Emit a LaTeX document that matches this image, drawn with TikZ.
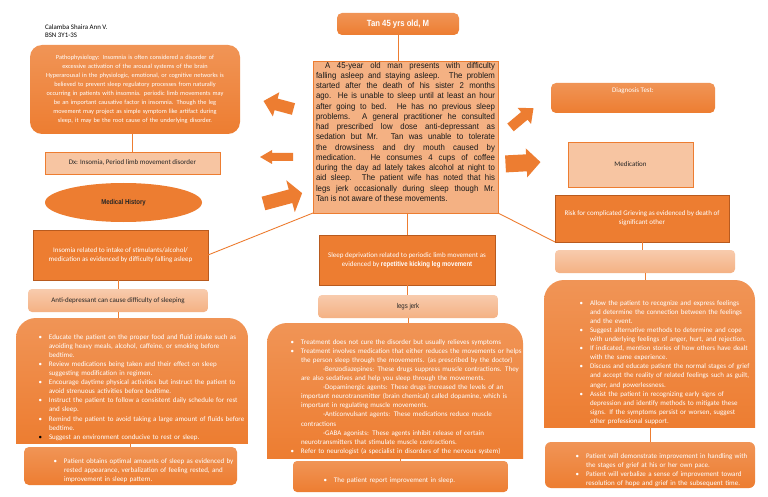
\documentclass[tikz,border=0pt]{standalone}
\usepackage{fontspec}
\setmainfont{Carlito}
\newfontfamily\narrow[FakeStretch=0.86]{Liberation Sans}
\newfontfamily\narrowb[FakeStretch=0.93]{Liberation Sans}
\usetikzlibrary{shapes.geometric}
\definecolor{orng}{HTML}{ED7D31}
\definecolor{orngdk}{HTML}{B85A1E}
\definecolor{sal}{HTML}{F4B183}
\definecolor{lsal}{HTML}{F8CBAD}
\definecolor{dtext}{HTML}{262626}
\newcommand\fs{\fontsize{7}{9.1}\selectfont}
\newcommand\fsp{\fontsize{6.3}{9}\selectfont}
\newcommand\itm{\par\noindent\llap{\textbullet\hspace{7pt}}}
\newcommand\itmk{\par\noindent\llap{\textcolor{black}{\textbullet}\hspace{7pt}}}
\newcommand\subl{\par\noindent\hspace*{22pt}}
\newcommand\barrow[7]{%
  \fill[orng, shift={(#1,#2)}, rotate=#3]
    (-#4/2,-#7/2) -- (#4/2-#5,-#7/2) -- (#4/2-#5,-#6/2) -- (#4/2,0)
    -- (#4/2-#5,#6/2) -- (#4/2-#5,#7/2) -- (-#4/2,#7/2) -- cycle;}
\newcommand\topround[1]{%
  \begin{scope}
    \clip[rounded corners=20pt] (#1.north west) rectangle ([yshift=-40pt]#1.south east);
    \shade[top color=orng!82!white, bottom color=orng] (#1.north west) rectangle (#1.south east);
  \end{scope}}
\tikzset{
  base/.style={inner sep=0pt, outer sep=0pt},
  hold/.style={base, rectangle},
  obox/.style={base, top color=orng!82!white, bottom color=orng, draw=none},
  lbox/.style={base, top color=lsal, bottom color=sal, draw=none},
  sbox/.style={base, fill=orng, draw=orngdk, line width=0.8pt},
  pbox/.style={base, fill=sal!75!white, draw=orng, line width=0.8pt},
  wtxt/.style={text=white, font=\fs},
  dtxt/.style={text=dtext, font=\fs},
  conn/.style={draw=orng, line width=0.9pt},
}
\begin{document}
\begin{tikzpicture}[x=1pt,y=-1pt]
\useasboundingbox (0,0) rectangle (768,497);
\fill[white] (0,0) rectangle (768,497);

% header
\node[base, anchor=west, text=black, font=\fontsize{6.9}{7}\selectfont] (nm1) at (45,27) {Calamba Shaira Ann V.};
\node[base, anchor=west, text=black, font=\fontsize{6.9}{7}\selectfont] (nm2) at (45,35) {BSN 3Y1-3S};

% left column
\node[obox, text=white, font=\fsp, rounded corners=12pt, minimum width=210pt, minimum height=89pt, text width=205pt, align=center] (patho) at (135,89.5)
 {Pathophysiology: Insomnia is often considered a disorder of\\excessive activation of the arousal systems of the brain\\Hyperarousal in the physiologic, emotional, or cognitive networks is\\believed to prevent sleep regulatory processes from naturally\\occurring in patients with insomnia. periodic limb movements may\\be an important causative factor in insomnia. Though the leg\\movement may project as simple symptom like artifact during\\sleep, it may be the root cause of the underlying disorder.};
\node[pbox, dtxt, minimum width=175pt, minimum height=22pt] (dx) at (132.5,163) {Dx: Insomia, Period limb movement disorder};
\node[base, ellipse, fill=orng, minimum width=157pt, minimum height=39pt, text=dtext, font=\narrow\bfseries\fontsize{7}{8}\selectfont] (mh) at (123.5,202.5) {Medical History};
\node[sbox, wtxt, minimum width=175pt, minimum height=50pt, align=center] (ins) at (120.5,255)
 {Insomia related to intake of stimulants/alcohol/\\medication as evidenced by difficulty falling asleep};
\node[lbox, dtxt, rounded corners=4pt, minimum width=180pt, minimum height=23pt] (anti) at (118,300.5) {Anti-depressant can cause difficulty of sleeping};
\node[hold, minimum width=232pt, minimum height=125pt] (lint) at (132,380.5) {};
\topround{lint}
\node[base, wtxt, anchor=north west, text width=215pt, align=left] (lintt) at (49,330)
 {\itm Educate the patient on the proper food and fluid intake such as\newline avoiding heavy meals, alcohol, caffeine, or smoking before\newline bedtime.
  \itm Review medications being taken and their effect on sleep\newline suggesting modification in regimen.
  \itm Encourage daytime physical activities but instruct the patient to\newline avoid strenuous activities before bedtime.
  \itm Instruct the patient to follow a consistent daily schedule for rest\newline and sleep.
  \itm Remind the patient to avoid taking a large amount of fluids before\newline bedtime.
  \itmk Suggest an environment conducive to rest or sleep.};
\node[obox, rounded corners=5pt, minimum width=213pt, minimum height=38pt] (lout) at (130.5,466) {};
\node[base, wtxt, anchor=north west, text width=180pt, align=left] (loutt) at (64,454)
 {\itm Patient obtains optimal amounts of sleep as evidenced by\newline rested appearance, verbalization of feeling rested, and\newline improvement in sleep pattern.};

% middle column
\node[obox, rounded corners=5pt, minimum width=122pt, minimum height=22pt, text=white, font=\narrow\bfseries\fontsize{9}{10}\selectfont] (tan) at (398,24) {Tan 45 yrs old, M};
\node[pbox, fill=sal, minimum width=185pt, minimum height=152pt] (narr) at (405.5,137) {};
\node[base, anchor=north west, text width=179pt, align=justify, text=black!90, font=\narrowb\fontsize{8.4}{10.25}\selectfont] (narrt) at (316,62)
 {\hspace*{9pt}A 45-year old man presents with difficulty\linebreak
  falling asleep and staying asleep. The problem\linebreak
  started after the death of his sister 2 months\linebreak
  ago. He is unable to sleep until at least an hour\linebreak
  after going to bed. He has no previous sleep\linebreak
  problems. A general practitioner he consulted\linebreak
  had prescribed low dose anti-depressant as\linebreak
  sedation but Mr. Tan was unable to tolerate\linebreak
  the drowsiness and dry mouth caused by\linebreak
  medication. He consumes 4 cups of coffee\linebreak
  during the day ad lately takes alcohol at night to\linebreak
  aid sleep. The patient wife has noted that his\linebreak
  legs jerk occasionally during sleep though Mr.\linebreak
  Tan is not aware of these movements.};
\node[sbox, wtxt, minimum width=176pt, minimum height=50pt, align=center] (sdep) at (407,260)
 {Sleep deprivation related to periodic limb movement as\\evidenced by {\narrow\bfseries repetitive kicking leg movement}};
\node[lbox, rounded corners=4pt, minimum width=180pt, minimum height=23pt, text=dtext, font=\narrow\fontsize{7}{8}\selectfont] (legs) at (408,306.5) {legs jerk};
\node[hold, minimum width=256pt, minimum height=135pt] (mint) at (395,390.5) {};
\topround{mint}
\node[base, wtxt, anchor=north west, text width=240pt, align=left] (mintt) at (301,335)
 {\itm Treatment does not cure the disorder but usually relieves symptoms
  \itm Treatment involves medication that either reduces the movements or helps\newline the person sleep through the movements. (as prescribed by the doctor)
  \subl -Benzodiazepines: These drugs suppress muscle contractions. They\newline are also sedatives and help you sleep through the movements.
  \subl -Dopaminergic agents: These drugs increased the levels of an\newline important neurotransmitter (brain chemical) called dopamine, which is\newline important in regulating muscle movements.
  \subl -Anticonvulsant agents: These medications reduce muscle\newline contractions
  \subl -GABA agonists: These agents inhibit release of certain\newline neurotransmitters that stimulate muscle contractions.
  \itm Refer to neurologist (a specialist in disorders of the nervous system)};
\node[obox, rounded corners=4pt, minimum width=215pt, minimum height=31pt] (mout) at (400.5,476.5) {};
\node[base, wtxt, anchor=north west, text width=170pt, align=left] (moutt) at (334,473)
 {\itm The patient report improvement in sleep.};

% right column
\node[obox, rounded corners=5pt, minimum width=164pt, minimum height=30pt] (diag) at (633,98) {};
\node[base, wtxt] (diagt) at (633,91) {Diagnosis Test:};
\node[pbox, dtxt, minimum width=125pt, minimum height=45pt] (med) at (630.5,164.5) {Medication};
\node[sbox, wtxt, minimum width=174pt, minimum height=47pt, align=center] (risk) at (642,218.5)
 {Risk for complicated Grieving as evidenced by death of\\significant other};
\node[lbox, rounded corners=4pt, minimum width=180pt, minimum height=23pt] (rempty) at (645,261.5) {};
\node[hold, minimum width=211pt, minimum height=147pt] (rint) at (649.5,353.5) {};
\topround{rint}
\node[base, wtxt, anchor=north west, text width=165pt, align=left] (rintt) at (590,296)
 {\itm Allow the patient to recognize and express feelings\newline and determine the connection between the feelings\newline and the event.
  \itm Suggest alternative methods to determine and cope\newline with underlying feelings of anger, hurt, and rejection.
  \itm If indicated, mention stories of how others have dealt\newline with the same experience.
  \itm Discuss and educate patient the normal stages of grief\newline and accept the reality of related feelings such as guilt,\newline anger, and powerlessness.
  \itm Assist the patient in recognizing early signs of\newline depression and identify methods to mitigate these\newline signs. If the symptoms persist or worsen, suggest\newline other professional support.};
\node[obox, rounded corners=6pt, minimum width=210pt, minimum height=46pt] (rout) at (650,465) {};
\node[base, wtxt, anchor=north west, text width=170pt, align=left] (routt) at (586,449)
 {\itm Patient will demonstrate improvement in handling with\newline the stages of grief at his or her own pace.
  \itm Patient will verbalize a sense of improvement toward\newline resolution of hope and grief in the subsequent time.};

% block arrows
\barrow{278.5}{105}{165}{31}{13}{25}{12}
\barrow{276.5}{157}{180}{33}{12}{14}{8}
\barrow{282.8}{198.3}{15}{40}{12}{33}{14}
\barrow{522}{117.8}{40}{30}{12}{21}{10}
\barrow{523}{163}{3}{35}{14}{29}{17}

% connectors
\draw[conn] (dx.north |- patho.south) -- (dx.north);
\draw[conn] (anti.north |- ins.south) -- (anti.north);
\draw[conn] (anti.south) -- (anti.south |- lint.north);
\draw[conn] (lout.north |- lint.south) -- (lout.north);
\draw[conn] (ins.east) -- (narr.south west);
\draw[conn] (tan.south) -- (tan.south |- narr.north);
\draw[conn] (sdep.north |- narr.south) -- (sdep.north);
\draw[conn] (sdep.south) -- (sdep.south |- legs.north);
\draw[conn] (legs.south) -- (legs.south |- mint.north);
\draw[conn] (mout.north |- mint.south) -- (mout.north);
\draw[conn] (narr.south east) -- (risk.south west);
\draw[conn] (risk.south) -- (risk.south |- rempty.north);
\draw[conn] (rempty.south) -- (rempty.south |- rint.north);
\draw[conn] (rout.north |- rint.south) -- (rout.north);
\end{tikzpicture}
\end{document}
